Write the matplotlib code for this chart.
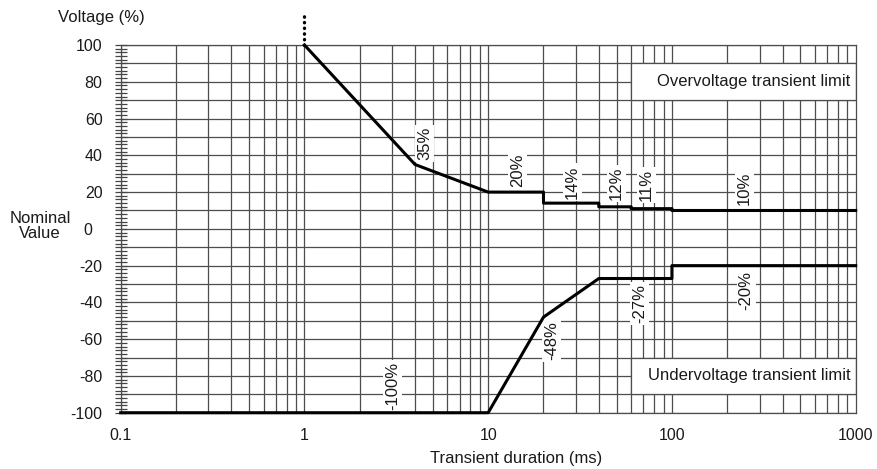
import matplotlib
matplotlib.use("Agg")
import matplotlib.pyplot as plt
import matplotlib.transforms as mtransforms
import numpy as np

plt.rcParams['font.family'] = ['Liberation Sans', 'DejaVu Sans']
plt.rcParams['axes.unicode_minus'] = False

# limit curves (duration in ms, voltage in %)
over_t = [1, 4, 10, 20, 20, 40, 40, 60, 60, 100, 100, 1000]
over_v = [100, 35, 20, 20, 14, 14, 12, 12, 11, 11, 10, 10]
under_t = [0.1, 10, 20, 40, 100, 100, 1000]
under_v = [-100, -100, -48, -27, -27, -20, -20]

# percentage labels along the curves
lbl_text = ['35%', '20%', '14%', '12%', '11%', '10%',
            '-100%', '-48%', '-27%', '-20%']
lbl_t = [4.5, 14.4, 28.6, 50, 72.5, 248, 3.03, 22.2, 67, 253]
lbl_v = [46.5, 32, 25.5, 24.6, 23.7, 22, -85.3, -60.8, -40.8, -33.5]

xticks = [0.1, 1, 10, 100, 1000]
xtick_labels = ['0.1', '1', '10', '100', '1000']
yticks = [100, 80, 60, 40, 20, 0, -20, -40, -60, -80, -100]

fs = 12
tick_fs = 11.5
txt_c = '#1a1a1a'

fig = plt.figure(figsize=(8.77, 4.69), dpi=100)
ax = fig.add_axes([0.1376, 0.1200, 0.8381, 0.7840])
ax.set_xscale('log')
ax.set_xlim(0.1, 1000)
ax.set_ylim(-100, 100)

grid_c = '#4d4d4d'
# grid: every log subdivision on x, every 10 % on y
for dec in [0.1, 1, 10, 100]:
    for m in range(1, 10):
        ax.axvline(dec * m, color=grid_c, lw=0.9, zorder=1)
for yv in range(-100, 101, 10):
    ax.axhline(yv, color=grid_c, lw=0.9, zorder=1)

# white panels for the two captions
for y0 in [70, -90]:
    ax.fill_between([60, 1000], y0, y0 + 20, facecolor='white',
                    edgecolor=grid_c, lw=0.9, zorder=2)
ax.text(935, 80, 'Overvoltage transient limit', ha='right', va='center',
        fontsize=fs, color=txt_c, zorder=3)
ax.text(935, -80, 'Undervoltage transient limit', ha='right', va='center',
        fontsize=fs, color=txt_c, zorder=3)

ax.plot(over_t, over_v, color='black', lw=2.2, zorder=4, clip_on=False)
ax.plot(under_t, under_v, color='black', lw=2.2, zorder=4, clip_on=False)
ax.plot([1, 1], [100, 116.5], color='black', lw=2.4,
        linestyle=(0, (0.1, 1.6)), dash_capstyle='round', zorder=4,
        clip_on=False)

for s, t, v in zip(lbl_text, lbl_t, lbl_v):
    ax.text(t, v, s, rotation=90, ha='center', va='center', fontsize=fs,
            color=txt_c, zorder=3,
            bbox=dict(boxstyle='square,pad=0.12', fc='white', ec='none'))

for sp in ax.spines.values():
    sp.set_color(grid_c)
    sp.set_linewidth(0.9)

ax.set_xticks(xticks)
ax.set_xticklabels(xtick_labels)
ax.xaxis.set_minor_locator(matplotlib.ticker.NullLocator())
ax.tick_params(axis='x', length=0, pad=11, labelsize=tick_fs, labelcolor=txt_c)

ax.set_yticks(yticks)
ax.set_yticklabels([str(v) for v in yticks])
ax.set_yticks(np.arange(-100, 101, 2), minor=True)
ax.tick_params(axis='y', which='both', direction='inout', length=8, width=0.9,
               color='#444444', pad=9, labelsize=tick_fs, labelcolor=txt_c)

# the zero label sits a little further left
for lab in ax.get_yticklabels():
    if lab.get_text() == '0':
        lab.set_transform(lab.get_transform() +
                          mtransforms.ScaledTranslation(-10 / 100, 0, fig.dpi_scale_trans))

fig.text(101.5 / 877, 1 - 17.3 / 469, 'Voltage (%)', ha='center', va='center',
         fontsize=fs, color=txt_c)
fig.text(40 / 877, 1 - 226 / 469, 'Nominal\nValue', ha='center', va='center',
         fontsize=fs, color=txt_c, linespacing=1.0)
fig.text(516.5 / 877, 1 - 458 / 469, 'Transient duration (ms)', ha='center',
         va='center', fontsize=fs, color=txt_c)

fig.savefig('out.png', dpi=100, facecolor='white')
